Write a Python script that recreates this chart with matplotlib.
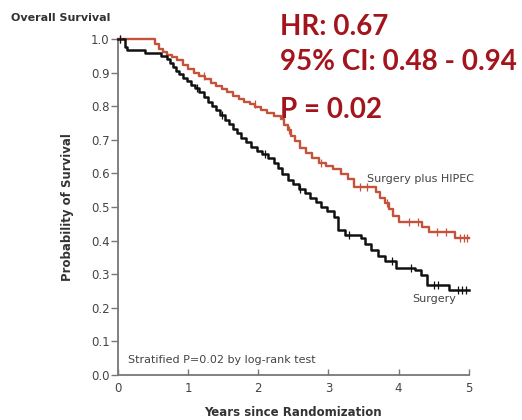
import matplotlib.pyplot as plt
import numpy as np

# Kaplan-Meier estimates, years since randomization
hipec_t = [0.00, 0.53, 0.58, 0.64, 0.70, 0.77, 0.84, 0.92, 1.00, 1.08, 1.16, 1.24,
           1.32, 1.40, 1.48, 1.56, 1.64, 1.72, 1.80, 1.88, 1.96, 2.04, 2.12, 2.22,
           2.32, 2.37, 2.42, 2.47, 2.53, 2.60, 2.68, 2.76, 2.86, 2.96, 3.06, 3.18,
           3.28, 3.36, 3.68, 3.74, 3.80, 3.86, 3.92, 4.00, 4.34, 4.44, 4.80, 5.00]
hipec_s = [1.000, 0.985, 0.970, 0.962, 0.954, 0.946, 0.938, 0.924, 0.912, 0.900, 0.890, 0.880,
           0.870, 0.860, 0.852, 0.842, 0.832, 0.822, 0.814, 0.806, 0.797, 0.789, 0.780, 0.772,
           0.762, 0.745, 0.728, 0.712, 0.697, 0.675, 0.660, 0.645, 0.632, 0.622, 0.612, 0.598,
           0.585, 0.560, 0.545, 0.528, 0.512, 0.495, 0.472, 0.456, 0.441, 0.426, 0.408, 0.408]
hipec_cens = [0.03, 1.22, 1.95, 2.44, 2.90, 3.45, 3.55, 3.84, 4.15, 4.28, 4.55, 4.68,
              4.88, 4.93, 4.97]

surg_t = [0.00, 0.10, 0.13, 0.38, 0.62, 0.70, 0.74, 0.78, 0.82, 0.87, 0.92, 0.98,
          1.04, 1.10, 1.16, 1.22, 1.28, 1.34, 1.40, 1.46, 1.52, 1.58, 1.64, 1.70,
          1.76, 1.82, 1.90, 1.98, 2.06, 2.14, 2.22, 2.28, 2.34, 2.42, 2.50, 2.58,
          2.66, 2.74, 2.82, 2.90, 2.98, 3.08, 3.14, 3.24, 3.46, 3.52, 3.60, 3.70,
          3.80, 3.96, 4.24, 4.32, 4.40, 4.72, 5.00]
surg_s = [1.000, 0.976, 0.967, 0.958, 0.950, 0.942, 0.930, 0.918, 0.906, 0.895, 0.885, 0.874,
          0.864, 0.853, 0.842, 0.828, 0.814, 0.800, 0.788, 0.774, 0.760, 0.746, 0.733, 0.720,
          0.706, 0.693, 0.680, 0.668, 0.657, 0.645, 0.632, 0.615, 0.598, 0.582, 0.568, 0.555,
          0.542, 0.528, 0.514, 0.500, 0.487, 0.470, 0.432, 0.418, 0.408, 0.390, 0.372, 0.355,
          0.340, 0.320, 0.312, 0.298, 0.268, 0.253, 0.253]
surg_cens = [0.03, 1.12, 1.48, 2.10, 2.60, 3.30, 3.90, 4.18, 4.50, 4.56, 4.84, 4.90, 4.96]

x_ticks = [0, 1, 2, 3, 4, 5]
y_ticks = [0.0, 0.1, 0.2, 0.3, 0.4, 0.5, 0.6, 0.7, 0.8, 0.9, 1.0]

red = '#c5523b'
dark_red = '#a3141c'
grey = '#444444'


def step_value(times, surv, at):
    idx = np.searchsorted(times, at, side='right') - 1
    return np.asarray(surv)[idx]


fig = plt.figure(figsize=(5.22, 4.20), dpi=100)
ax = fig.add_axes([0.226, 0.107, 0.672, 0.80])

ax.step(hipec_t, hipec_s, where='post', color=red, lw=1.7, clip_on=False, zorder=3)
ax.step(surg_t, surg_s, where='post', color='#111111', lw=1.8, clip_on=False, zorder=3)

# censoring ticks
ax.plot(hipec_cens, step_value(hipec_t, hipec_s, hipec_cens), ls='none',
        marker='|', ms=6, mew=0.9, color=red, clip_on=False, zorder=4)
ax.plot(surg_cens, step_value(surg_t, surg_s, surg_cens), ls='none',
        marker='|', ms=6, mew=0.9, color='#111111', clip_on=False, zorder=4)

ax.set_xlim(0, 5)
ax.set_ylim(0, 1.0)
ax.set_xticks(x_ticks)
ax.set_yticks(y_ticks)
ax.set_yticklabels([f'{v:.1f}' for v in y_ticks])

for side in ('top', 'right'):
    ax.spines[side].set_visible(False)
for side in ('left', 'bottom'):
    ax.spines[side].set_color('#777777')
    ax.spines[side].set_linewidth(1.3)

ax.tick_params(axis='y', direction='out', length=5, width=1, color='#777777',
               labelsize=8.5, labelcolor=grey, pad=1)
ax.tick_params(axis='x', direction='in', length=4, width=1, color='#777777',
               labelsize=8.5, labelcolor=grey, pad=5)

ax.set_ylabel('Probability of Survival', fontsize=8.5, fontweight='bold',
              color='#333333', labelpad=12)
ax.set_xlabel('Years since Randomization', fontsize=8.5, fontweight='bold',
              color='#333333', labelpad=8)

fig.text(0.022, 0.957, 'Overall Survival', fontsize=8, fontweight='bold',
         color='#333333', va='center')

ax.text(3.55, 0.585, 'Surgery plus HIPEC', fontsize=8, color='#444444', va='center')
ax.text(4.2, 0.225, 'Surgery', fontsize=8, color='#444444', va='center')
ax.text(0.14, 0.045, 'Stratified P=0.02 by log-rank test', fontsize=8,
        color='#444444', va='center')

for y, s in [(0.917, 'HR: 0.67'), (0.833, '95% CI: 0.48 - 0.94'), (0.719, 'P = 0.02')]:
    fig.text(0.536, y, s, fontsize=20, fontweight='bold', color=dark_red,
             family='Lato', va='baseline')

fig.savefig('out.png', dpi=100)
